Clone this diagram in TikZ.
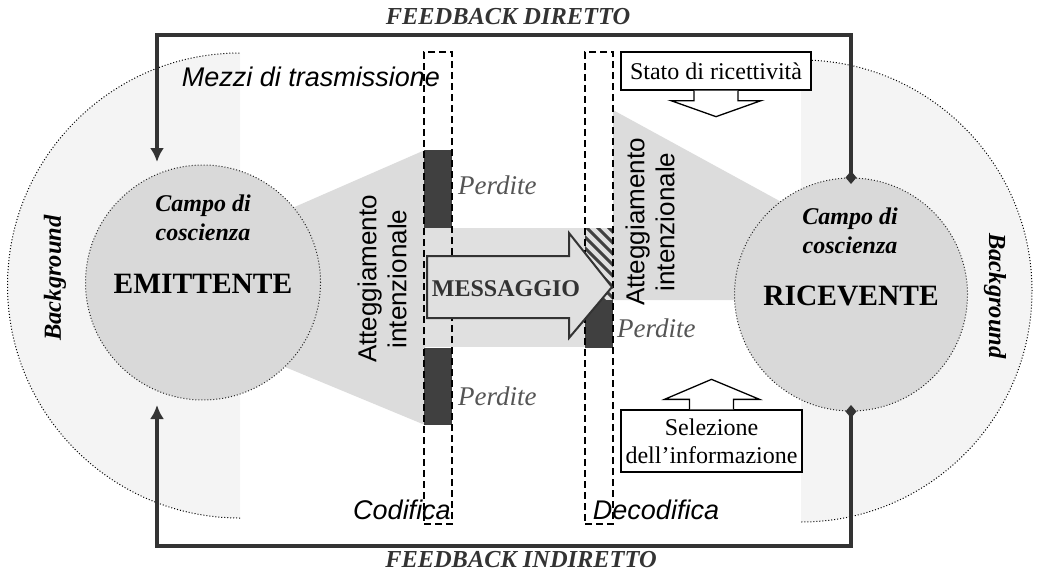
\documentclass[tikz,border=0pt]{standalone}
\usepackage{fontspec}
\setmainfont{Liberation Serif}
\setsansfont{Liberation Sans}
\usetikzlibrary{arrows.meta,calc}
\definecolor{bgfill}{HTML}{F4F4F4}
\definecolor{cone}{HTML}{DCDCDC}
\definecolor{band}{HTML}{E0E0E0}
\definecolor{circfill}{HTML}{D9D9D9}
\definecolor{darkblk}{HTML}{404040}
\definecolor{lineclr}{HTML}{333333}
\definecolor{perd}{HTML}{555555}
\begin{document}
\begin{tikzpicture}[x=1pt,y=-1pt,
  fb/.style={line width=3.3pt, draw=lineclr},
  colbox/.style={draw=black, line width=1.3pt, dash pattern=on 7pt off 4pt, minimum width=28pt, minimum height=472pt, inner sep=0pt},
  circ/.style={circle, fill=circfill, draw=black!85, dotted, line width=1pt, inner sep=0pt, minimum size=#1},
  bx/.style={draw=black, line width=1.3pt, fill=white},
  fbtxt/.style={font=\fontsize{24.4}{28}\selectfont\bfseries\itshape, text=lineclr},
  campo/.style={font=\fontsize{24}{29}\selectfont\bfseries\itshape, align=center},
  bigname/.style={font=\fontsize{29.5}{33}\selectfont\bfseries},
  perdtxt/.style={font=\fontsize{27}{30}\selectfont\itshape, text=perd, anchor=west, inner sep=0pt},
  sanslbl/.style={font=\fontsize{26}{30}\selectfont\sffamily, align=center},
  sansit/.style={font=\fontsize{27}{30}\selectfont\sffamily\itshape},
  serif24/.style={font=\fontsize{24}{28}\selectfont, align=center},
  bgtxt/.style={font=\fontsize{24.5}{28}\selectfont\bfseries\itshape}
]
\useasboundingbox (0,0) rectangle (1038,573);
% background half disks
\begin{scope}
  \clip (0,0) rectangle (240,573);
  \fill[bgfill] (240,285.5) circle (232.5pt);
  \draw[dotted, line width=1pt] (240,285.5) circle (232.5pt);
\end{scope}
\begin{scope}
  \clip (801,0) rectangle (1038,573);
  \fill[bgfill] (801,291) circle (231pt);
  \draw[dotted, line width=1pt] (801,291) circle (231pt);
\end{scope}
% cones and band
\fill[cone] (203,247) -- (425,150) -- (425,425) -- (203,333) -- cycle;
\fill[cone] (613,110) -- (851,240) -- (851,300) -- (613,300) -- cycle;
\fill[band] (424,228) rectangle (613,347);
% circles
\node[circ=235pt] (emit) at (203,282.5) {};
\node[circ=233pt] (ricev) at (851,294.5) {};
% feedback loops
\coordinate (fbTL) at (157,35);
\coordinate (fbBL) at (157,546);
\coordinate (emitIn) at (157,162);
\coordinate (emitIn2) at (157,405);
\draw[fb, {Diamond[length=13pt,width=11pt]}-{Latex[length=14pt,width=14pt]}, shorten <=-6.5pt] (ricev.north) |- (fbTL) -- (emitIn);
\draw[fb, {Diamond[length=13pt,width=11pt]}-{Latex[length=14pt,width=14pt]}, shorten <=-6.5pt] (ricev.south) |- (fbBL) -- (emitIn2);
\node[fbtxt] (fbd) at (508,17) {FEEDBACK DIRETTO};
\node[fbtxt] (fbi) at (521,560) {FEEDBACK INDIRETTO};
% columns
\fill[darkblk] (424,150) rectangle (452,228);
\fill[darkblk] (424,348) rectangle (452,425);
\fill[darkblk] (585,300) rectangle (613,348);
\fill[band] (585,228) rectangle (613,300);
\begin{scope}
  \clip (585,228) rectangle (613,300);
  \foreach \k in {-40,-29,...,90} {
    \draw[line width=3pt, draw=darkblk] (580,228+\k) -- (618,266+\k);
  }
\end{scope}
\node[colbox] (cod) at (438,288) {};
\node[colbox] (dec) at (599,288) {};
% message arrow
\draw[line width=2pt, draw=lineclr, fill=band] (427,256) -- (569,256) -- (569,233) -- (612,287) -- (569,338) -- (569,318) -- (427,318) -- cycle;
\node[font=\fontsize{24}{28}\selectfont\bfseries, text=lineclr] (msg) at (506,289) {MESSAGGIO};
% circle texts
\node[campo] (campoE) at (203,218) {Campo di\\coscienza};
\node[bigname] (emitT) at (203,284) {EMITTENTE};
\node[campo] (campoR) at (850,231) {Campo di\\coscienza};
\node[bigname] (ricevT) at (851,296) {RICEVENTE};
% background labels
\node[bgtxt, rotate=90] (bgL) at (55,278) {Background};
\node[bgtxt, rotate=-90] (bgR) at (995,296) {Background};
% attitude labels
\node[sanslbl, rotate=90] (attL) at (382,279) {Atteggiamento\\intenzionale};
\node[sanslbl, rotate=90] (attR) at (650,222) {Atteggiamento\\intenzionale};
% perdite
\node[perdtxt] (p1) at (458,185) {Perdite};
\node[perdtxt] (p2) at (458,396) {Perdite};
\node[perdtxt] (p3) at (617,328) {Perdite};
% other labels
\node[sansit] (mezzi) at (311,77) {Mezzi di trasmissione};
\node[sansit] (codt) at (402,510) {Codifica};
\node[sansit] (dect) at (656,510) {Decodifica};
% stato box
\node[bx, serif24, minimum width=190pt, minimum height=38pt, inner sep=0pt] (stato) at (716,71) {Stato di ricettività};
\draw[bx] ($(stato.south)+(-22,0)$) -- ++(0,10) -- ++(-23,0) -- ($(stato.south)+(0,26)$) -- ($(stato.south)+(45,10)$) -- ++(-23,0) -- ++(0,-10);
% selezione box
\node[bx, serif24, minimum width=181pt, minimum height=62pt, inner sep=0pt] (sel) at (711.5,441) {Selezione\\dell’informazione};
\draw[bx] ($(sel.north)+(-22,0)$) -- ++(0,-10) -- ++(-25,0) -- ($(sel.north)+(0,-30)$) -- ($(sel.north)+(48,-10)$) -- ++(-26,0) -- ++(0,10);
\end{tikzpicture}
\end{document}
